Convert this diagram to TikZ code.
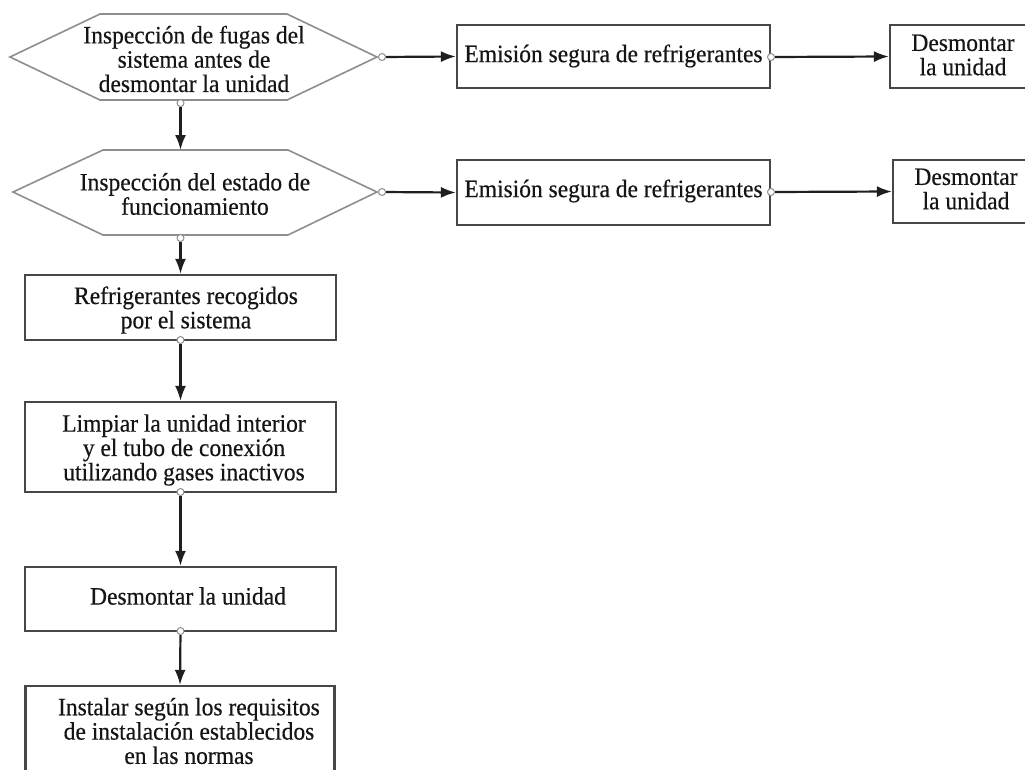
\documentclass[tikz,border=0pt]{standalone}
\usepackage{fontspec}
\setmainfont{Liberation Serif}[FakeBold=0.4,FakeStretch=0.94]
\usetikzlibrary{arrows.meta}
\definecolor{boxgray}{HTML}{474747}
\definecolor{hexgray}{HTML}{8E8E8E}
\definecolor{ink}{HTML}{151515}
\begin{document}
\begin{tikzpicture}[x=1pt,y=-1pt,
  font=\fontsize{25}{24.3}\selectfont,
  box/.style={draw=boxgray, line width=2.2pt, fill=white, inner sep=0pt},
  txt/.style={align=center, inner sep=0pt, text=ink},
  hexline/.style={draw=hexgray, line width=1.6pt, line join=miter},
  arr/.style={draw=black!88, line width=2.2pt, -{Latex[length=15pt,width=11pt]}},
  dot/.style={circle, draw=hexgray, fill=white, line width=1pt, minimum size=7pt, inner sep=0pt}]
\useasboundingbox (0,0) rectangle (1025,769);
\fill[white] (0,0) rectangle (1025,769);
\clip (0,0) rectangle (1025,769);

% hexagon 1
\draw[hexline] (10,57) -- (100,14) -- (287,14) -- (377,57) -- (287,100) -- (100,100) -- cycle;
\node[txt] (h1) at (194,59) {Inspección de fugas del\\sistema antes de\\desmontar la unidad};
\coordinate (h1r) at (377,57);
\coordinate (h1b) at (180.5,100);
% hexagon 2
\draw[hexline] (13,192) -- (103,150) -- (288,150) -- (377,192) -- (288,235) -- (103,235) -- cycle;
\node[txt] (h2) at (195,194) {Inspección del estado de\\funcionamiento};
\coordinate (h2t) at (180.5,150);
\coordinate (h2r) at (377,192);
\coordinate (h2b) at (180.5,235);

% right column row 1
\node[box, minimum width=313pt, minimum height=63pt] (e1) at (613.5,56.5) {};
\node[txt] (e1t) at (613.5,56) {Emisión segura de refrigerantes};
\node[box, minimum width=146pt, minimum height=63pt] (d1) at (963,56.5) {};
\node[txt] (d1t) at (963,55) {Desmontar\\la unidad};
% right column row 2
\node[box, minimum width=313pt, minimum height=65pt] (e2) at (613.5,192.5) {};
\node[txt] (e2t) at (613.5,191) {Emisión segura de refrigerantes};
\node[box, minimum width=146pt, minimum height=63pt] (d2) at (966,191.5) {};
\node[txt] (d2t) at (966,189) {Desmontar\\la unidad};

% left column boxes
\node[box, minimum width=311pt, minimum height=65pt] (r1) at (180.5,307.5) {};
\node[txt] (r1t) at (186,310) {Refrigerantes recogidos\\por el sistema};
\node[box, minimum width=311pt, minimum height=90pt] (l1) at (180.5,447) {};
\node[txt] (l1t) at (184,450) {Limpiar la unidad interior\\y el tubo de conexión\\utilizando gases inactivos};
\node[box, minimum width=311pt, minimum height=64pt] (m1) at (180.5,599) {};
\node[txt] (m1t) at (188,596) {Desmontar la unidad};
\node[box, minimum width=309pt, minimum height=120pt] (i1) at (180,746) {};
\node[txt] (i1t) at (189,731) {Instalar según los requisitos\\de instalación establecidos\\en las normas};

% dots
\node[dot] (p1) at (382,57) {};
\node[dot] (p2) at (771,57) {};
\node[dot] (p3) at (382,192) {};
\node[dot] (p4) at (771,192) {};
\node[dot] (q1) at (180.5,103) {};
\node[dot] (q2) at (180.5,238) {};
\node[dot] (q3) at (180.5,340) {};
\node[dot] (q4) at (180.5,492) {};
\node[dot] (q5) at (180.5,631) {};

% connectors
\draw[arr] (p1) -- (e1.west);
\draw[arr] (p2) -- (d1.west);
\draw[arr] (p3) -- (e2.west);
\draw[arr] (p4) -- (d2.west);
\draw[arr] (q1) -- (h2t);
\draw[arr] (q2) -- (r1.north);
\draw[arr] (q3) -- (l1.north);
\draw[arr] (q4) -- (m1.north);
\draw[arr] (q5) -- (i1.north);
\end{tikzpicture}
\end{document}
